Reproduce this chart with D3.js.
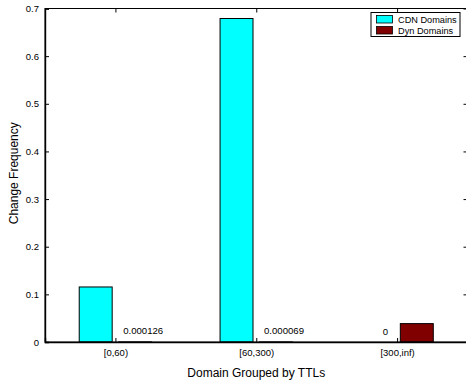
<!DOCTYPE html>
<html>
<head>
<meta charset="utf-8">
<script src="https://cdn.jsdelivr.net/npm/d3@7"></script>
<style>
  html, body { margin: 0; padding: 0; background: #fff; }
  svg { display: block; }
  text { font-family: "Liberation Sans", Arial, sans-serif; fill: #000; }
</style>
</head>
<body>
<svg id="chart" width="466" height="388"></svg>
<script>
// TTL groups and per-group change frequencies
const categories = ["[0,60)", "[60,300)", "[300,inf)"];
const seriesNames = ["CDN Domains", "Dyn Domains"];
const seriesColors = ["#00ffff", "#800000"];
const cdnValues = [0.1155, 0.679, 0];
const dynValues = [0.000126, 0.000069, 0.0386];
const valueLabels = [null, "0.000126", null, "0.000069", "0", null]; // per bar, CDN/Dyn per group
const yTicks = [0, 0.1, 0.2, 0.3, 0.4, 0.5, 0.6, 0.7];

const svg = d3.select("#chart");
const margin = { left: 45, top: 8.5, right: 467.5, bottom: 342 };

const x = d3.scaleLinear().domain([0.5, 3.5]).range([margin.left, margin.right]);
const y = d3.scaleLinear().domain([0, 0.7]).range([margin.bottom, margin.top]);

const barOffset = 0.14;   // group offset of each series, in category units
const barWidth = 0.234;   // bar width, in category units

const series = [cdnValues, dynValues];
const bars = [];
categories.forEach((c, i) => {
  series.forEach((vals, s) => {
    bars.push({ cat: i + 1, s, v: vals[i], label: valueLabels[i * 2 + s] });
  });
});

// bars
svg.append("g").selectAll("rect").data(bars).join("rect")
  .attr("x", d => x(d.cat + (d.s === 0 ? -barOffset : barOffset) - barWidth / 2))
  .attr("width", d => x(barWidth) - x(0))
  .attr("y", d => y(d.v))
  .attr("height", d => Math.max(0, y(0) - y(d.v)))
  .attr("fill", d => seriesColors[d.s])
  .attr("stroke", d => d.v === 0 ? "#2a8a8a" : "#000")
  .attr("stroke-width", 1);

// value labels
svg.append("g").selectAll("text").data(bars.filter(d => d.label)).join("text")
  .attr("x", d => x(d.cat + (d.s === 0 ? -barOffset : barOffset)) + 8)
  .attr("y", d => y(d.v) - 7.5)
  .attr("text-anchor", "middle")
  .attr("font-size", "9.6px")
  .attr("fill", "#222")
  .text(d => d.label);

// frame
const axisColor = "#000";
svg.append("rect")
  .attr("x", margin.left).attr("y", margin.top)
  .attr("width", margin.right - margin.left)
  .attr("height", margin.bottom - margin.top)
  .attr("fill", "none").attr("stroke", axisColor).attr("stroke-width", 1);

// left axis
const yAxis = d3.axisLeft(y).tickValues(yTicks).tickSize(-4).tickPadding(6)
  .tickFormat(d => d === 0 ? "0" : d3.format(".1f")(d));
const gy = svg.append("g").attr("transform", `translate(${margin.left},0)`).call(yAxis);
gy.select(".domain").attr("stroke-width", 1.4);
gy.selectAll("text").attr("font-size", "9.5px").attr("fill", "#222")
  .attr("font-family", "Liberation Sans, Arial, sans-serif");

// right axis ticks
const gyr = svg.append("g").attr("transform", `translate(${margin.right},0)`)
  .call(d3.axisRight(y).tickValues(yTicks).tickSize(-4).tickFormat(""));
gyr.select(".domain").remove();

// bottom axis
const xAxis = d3.axisBottom(x).tickValues([1, 2, 3]).tickSize(-4).tickPadding(7)
  .tickFormat((d, i) => categories[i]);
const gx = svg.append("g").attr("transform", `translate(0,${margin.bottom})`).call(xAxis);
gx.select(".domain").attr("stroke-width", 1.4);
gx.selectAll("text").attr("font-size", "9.5px").attr("fill", "#222")
  .attr("font-family", "Liberation Sans, Arial, sans-serif");

// top axis ticks
const gxt = svg.append("g").attr("transform", `translate(0,${margin.top})`)
  .call(d3.axisTop(x).tickValues([1, 2, 3]).tickSize(-4).tickFormat(""));
gxt.select(".domain").remove();

// axis titles
svg.append("text")
  .attr("x", x(2)).attr("y", 377)
  .attr("text-anchor", "middle").attr("font-size", "12px").attr("fill", "#111")
  .text("Domain Grouped by TTLs");
svg.append("text")
  .attr("transform", `translate(18,${(margin.top + margin.bottom) / 2 - 2}) rotate(-90)`)
  .attr("text-anchor", "middle").attr("font-size", "12px").attr("fill", "#111")
  .text("Change Frequency");

// legend
const legend = svg.append("g").attr("transform", "translate(371,12.5)");
legend.append("rect").attr("width", 89).attr("height", 24)
  .attr("fill", "#fff").attr("stroke", "#000").attr("stroke-width", 1);
seriesNames.forEach((name, i) => {
  legend.append("rect")
    .attr("x", 5.5).attr("y", 3 + i * 11).attr("width", 16).attr("height", 7.5)
    .attr("fill", seriesColors[i]).attr("stroke", "#000").attr("stroke-width", 0.8);
  legend.append("text")
    .attr("x", 27).attr("y", 10.5 + i * 10.5)
    .attr("font-size", "9.2px").attr("fill", "#111")
    .text(name);
});
</script>
</body>
</html>
